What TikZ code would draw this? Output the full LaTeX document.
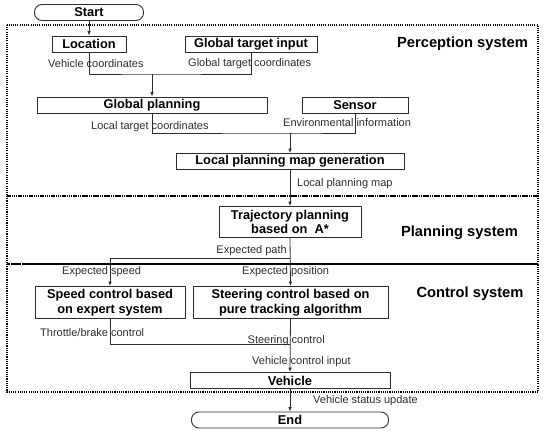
\documentclass[tikz,border=0pt]{standalone}
\usepackage{fontspec}
\setmainfont{Liberation Sans}
\usetikzlibrary{arrows.meta}
\definecolor{ln}{RGB}{45,45,45}
\begin{document}
\begin{tikzpicture}[x=1pt,y=-1pt,
  box/.style={draw=ln,line width=0.9pt,inner sep=0pt,minimum height=16pt,font=\fontsize{12.8}{14}\selectfont\bfseries,align=center},
  tallbox/.style={box,minimum height=31pt,font=\fontsize{12.8}{14.5}\selectfont\bfseries},
  term/.style={box,rounded corners=7.5pt},
  lbl/.style={inner sep=0pt,font=\fontsize{11}{12}\selectfont,text=ln},
  sect/.style={inner sep=0pt,font=\fontsize{14.7}{16}\selectfont\bfseries},
  region/.style={draw=black,line width=1.6pt,dash pattern=on 1.1pt off 1.1pt},
  conn/.style={draw=ln,line width=0.8pt},
  arr/.style={conn,-{Latex[length=4.5pt,width=3.6pt]}}]
\useasboundingbox (0,0) rectangle (546,433);
% regions
\draw[region] (7,25) rectangle (538,196);
\draw[region] (7,196) rectangle (538,264);
\draw[region] (7,264) rectangle (538,392);
% section titles
\node[sect] (tper) at (462.5,44) {Perception system};
\node[sect] (tpla) at (459.5,233) {Planning system};
\node[sect] (tcon) at (470,294) {Control system};
% nodes
\node[term,minimum width=109pt] (start) at (89,12.5) {Start};
\node[box,minimum width=74pt] (loc) at (89,44) {Location};
\node[box,minimum width=132pt] (gti) at (251,44) {Global target input};
\node[box,minimum width=230pt] (gplan) at (152,105) {Global planning};
\node[box,minimum width=106pt] (sensor) at (355,105) {Sensor};
\node[box,minimum width=228pt] (lpmg) at (290,161.5) {Local planning map generation};
\node[tallbox,minimum width=142pt] (traj) at (290,222) {Trajectory planning\\based on~~A*};
\node[tallbox,minimum width=150pt,minimum height=32pt] (speed) at (110,302.5) {Speed control based\\on expert system};
\node[tallbox,minimum width=195pt,minimum height=32pt] (steer) at (290.5,302.5) {Steering control based on\\pure tracking algorithm};
\node[box,minimum width=200pt] (veh) at (290,380.5) {Vehicle};
\node[term,minimum width=197pt] (end) at (290,420) {End};
% junction coordinates
\coordinate (j1) at (152,74);
\coordinate (j2) at (290,133);
\coordinate (j3) at (290,258);
\coordinate (j4) at (110,258);
\coordinate (j5) at (290,344);
% connectors
\draw[arr] (start.south) -- (loc.north);
\draw[conn] (loc.south) |- (j1) -| (gti.south);
\draw[arr] (j1) -- (gplan.north);
\draw[conn] (gplan.south) |- (j2) -| (sensor.south);
\draw[arr] (j2) -- (lpmg.north);
\draw[arr] (lpmg.south) -- (traj.north);
\draw[arr] (traj.south) -- (steer.north);
\draw[arr] (j3) -- (j4) -- (speed.north);
\draw[conn] (speed.south) |- (j5);
\draw[arr] (steer.south) -- (veh.north);
\draw[arr] (veh.south) -- (end.north);
% labels
\node[lbl,anchor=west] (l1) at (48,64) {Vehicle coordinates};
\node[lbl,anchor=west] (l2) at (188,64) {Global target coordinates};
\node[lbl,anchor=west] (l3) at (91,127) {Local target coordinates};
\node[lbl,anchor=west] (l4) at (283,123) {Environmental information};
\node[lbl,anchor=west] (l5) at (297,184) {Local planning map};
\node[lbl,anchor=east] (l6) at (287,251) {Expected path};
\node[lbl,anchor=west] (l7) at (62,272) {Expected speed};
\node[lbl,anchor=west] (l8) at (242,272) {Expected position};
\node[lbl,anchor=west] (l9) at (40,333) {Throttle/brake control};
\node[lbl,anchor=west] (l10) at (247.5,341) {Steering control};
\node[lbl,anchor=west] (l11) at (252,362) {Vehicle control input};
\node[lbl,anchor=west] (l12) at (313,401) {Vehicle status update};
\end{tikzpicture}
\end{document}
